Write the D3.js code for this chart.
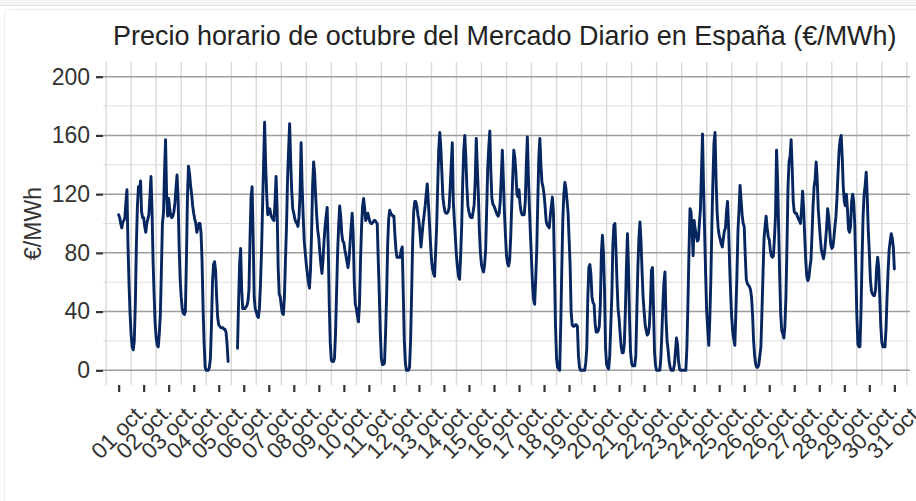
<!DOCTYPE html>
<html><head><meta charset="utf-8">
<script src="https://cdn.jsdelivr.net/npm/d3@7"></script>
<style>
html,body{margin:0;padding:0;background:#fff;}
svg{display:block;font-family:"Liberation Sans",Arial,Helvetica,sans-serif;}
</style>
</head><body>
<svg id="chart" width="916" height="501"></svg>
<script>
// ---- data ----
const chartTitle = "Precio horario de octubre del Mercado Diario en España (€/MWh)";
const yAxisTitle = "€/MWh";
const dayLabels = ["01 oct.","02 oct.","03 oct.","04 oct.","05 oct.","06 oct.","07 oct.","08 oct.",
  "09 oct.","10 oct.","11 oct.","12 oct.","13 oct.","14 oct.","15 oct.","16 oct.","17 oct.","18 oct.",
  "19 oct.","20 oct.","21 oct.","22 oct.","23 oct.","24 oct.","25 oct.","26 oct.","26 oct.","27 oct.",
  "28 oct.","29 oct.","30 oct.","31 oct."];
const yTickValues = [0, 40, 80, 120, 160, 200];
const yMinorValues = [20, 60, 100, 140, 180];
// hourly price (€/MWh), one row per day; null = no data
const hourlyPrices = [
  106,104,100,97,101,102,104,115,123,84,58,38,24,16,14,20,45,85,112,125,121,129,108,104,
  104,98,94,100,103,106,118,132,110,75,52,32,22,17,16,25,38,68,100,107,135,157,120,105,
  117,110,105,104,105,108,114,124,133,118,85,62,50,42,39,38,40,75,118,139,134,126,120,112,
  107,103,100,94,97,100,100,94,75,42,18,2,0,0,0,2,8,30,60,72,74,68,50,36,
  31,30,29,29,29,28,28,26,18,6,null,null,null,null,null,null,null,null,15,45,72,83,55,42,
  42,42,43,44,47,55,90,118,125,92,50,42,40,37,36,42,58,80,110,140,169,140,120,106,
  108,110,106,104,103,102,115,132,110,70,52,50,44,39,38,50,75,98,130,150,168,143,122,110,
  107,103,101,100,98,105,121,155,125,105,88,80,72,66,60,56,68,92,125,142,134,118,105,95,
  90,80,72,66,75,88,98,105,111,85,45,18,7,6,6,8,25,52,80,98,112,105,93,88,
  87,82,78,74,70,76,87,98,107,92,60,45,42,37,33,45,75,98,112,117,110,102,104,107,
  104,101,100,100,101,102,102,101,100,75,52,25,8,4,4,5,25,50,85,103,109,107,106,105,
  105,92,82,77,77,77,77,82,84,52,20,5,0,0,0,2,20,52,88,108,115,115,112,106,
  102,94,84,92,100,106,112,120,127,115,102,88,76,69,66,64,80,98,125,150,162,152,135,118,
  112,108,107,107,108,111,125,140,155,115,102,90,78,70,64,62,78,98,128,150,160,145,125,112,
  108,105,104,104,108,113,130,158,138,120,95,80,72,69,67,72,82,110,138,152,163,135,117,113,
  112,110,108,106,105,107,115,132,150,130,108,92,78,73,71,75,90,112,132,150,145,135,120,118,
  123,113,108,106,106,106,115,140,159,132,110,92,75,58,48,45,62,82,115,145,158,140,128,125,
  120,112,102,99,98,97,105,112,118,108,70,30,8,2,1,0,30,68,102,120,128,124,116,108,
  90,72,40,31,30,30,31,31,30,10,2,0,0,0,0,0,5,15,50,70,72,65,50,46,
  45,32,26,26,27,30,45,80,92,80,55,15,4,2,1,10,30,50,85,99,100,82,60,42,
  35,25,16,12,12,18,40,70,93,70,35,12,5,3,3,3,10,40,70,90,101,88,68,50,
  40,31,27,24,25,30,45,68,70,42,12,3,0,0,0,0,8,25,45,60,67,35,20,14,
  6,2,0,0,0,4,12,22,18,6,1,0,0,0,0,0,0,15,45,80,110,108,95,78,
  102,96,92,88,89,100,110,135,161,125,95,65,40,28,17,35,62,100,130,155,162,130,108,97,
  92,89,86,84,90,95,97,108,115,98,72,52,36,26,21,17,40,65,95,109,126,116,106,100,
  98,78,62,59,58,57,55,50,38,20,10,4,2,2,4,10,16,40,65,90,98,105,97,91,
  89,82,78,77,78,90,105,150,130,98,65,38,27,25,22,30,50,85,125,142,146,157,138,115,
  108,107,107,105,103,102,100,110,122,110,92,75,64,61,63,70,75,92,112,125,130,142,130,110,
  100,90,82,79,76,80,88,97,110,105,95,86,83,84,90,98,105,118,135,150,157,160,145,125,
  115,112,120,110,96,94,98,115,120,115,100,70,38,18,16,16,40,75,105,120,126,135,118,95,
  80,62,54,52,51,51,55,70,77,70,50,30,19,16,16,16,28,50,68,82,88,93,90,84,69
];

// ---- layout ----
const svg = d3.select("#chart");
const panel = {left: 103, right: 910, top: 62, bottom: 385};
const x = d3.scaleLinear().domain([-15, 759]).range([panel.left, panel.right]);
const y = d3.scaleLinear().domain([-10, 210]).range([panel.bottom, panel.top]);

// frame
svg.append("rect").attr("x",0).attr("y",0).attr("width",916).attr("height",5).attr("fill","#f6f6f6");
svg.append("line").attr("x1",0).attr("x2",916).attr("y1",5.5).attr("y2",5.5).attr("stroke","#e2e2e2");
svg.append("rect").attr("x",4.5).attr("y",9.5).attr("width",930).attr("height",520)
  .attr("rx",4).attr("fill","none").attr("stroke","#ececec");

const tickHours = dayLabels.map((_, i) => i * 24);
const gridHours = d3.range(-12, 760, 24);

const grid = svg.append("g");
grid.selectAll("line.vg").data(gridHours).join("line")
  .attr("x1", d => x(d)).attr("x2", d => x(d))
  .attr("y1", panel.top).attr("y2", panel.bottom)
  .attr("stroke", "#d9d9d9").attr("stroke-width", 1.4);
grid.selectAll("line.hmin").data(yMinorValues).join("line")
  .attr("x1", panel.left).attr("x2", panel.right)
  .attr("y1", d => y(d)).attr("y2", d => y(d))
  .attr("stroke", "#dedede").attr("stroke-width", 1.1);
grid.selectAll("line.hmaj").data(yTickValues).join("line")
  .attr("x1", panel.left).attr("x2", panel.right)
  .attr("y1", d => y(d)).attr("y2", d => y(d))
  .attr("stroke", "#9e9e9e").attr("stroke-width", 1.5);

// line
const line = d3.line()
  .defined(d => d != null)
  .x((d, i) => x(i))
  .y(d => y(d));
svg.append("path")
  .datum(hourlyPrices)
  .attr("d", line)
  .attr("fill", "none")
  .attr("stroke", "#062660")
  .attr("stroke-width", 2.9)
  .attr("stroke-linejoin", "round")
  .attr("stroke-linecap", "round");

// axes
const xAxis = d3.axisBottom(x).tickValues(tickHours)
  .tickFormat((d, i) => dayLabels[i]).tickSize(7).tickSizeOuter(0);
const gx = svg.append("g").attr("transform", `translate(0,${panel.bottom})`).call(xAxis);
gx.select(".domain").remove();
gx.selectAll(".tick line").attr("stroke", "#333").attr("stroke-width", 2.2);
gx.selectAll(".tick text")
  .attr("y", null).attr("dy", null)
  .attr("transform", "translate(0,46) rotate(-45)")
  .attr("text-anchor", "middle")
  .attr("dominant-baseline", "central")
  .attr("fill", "#333")
  .style("font-size", "22.5px");

const yAxis = d3.axisLeft(y).tickValues(yTickValues).tickSize(7).tickPadding(6).tickSizeOuter(0);
const gy = svg.append("g").attr("transform", `translate(${panel.left},0)`).call(yAxis);
gy.select(".domain").remove();
gy.selectAll(".tick line").attr("stroke", "#333").attr("stroke-width", 2.2);
gy.selectAll(".tick text").attr("fill", "#333").style("font-size", "23px");

// titles
const t = svg.append("text").attr("x", 113).attr("y", 45)
  .attr("fill", "#222").style("font-size", "26px").text(chartTitle);
const tl = t.node().getComputedTextLength();
t.style("font-size", (26 * 784 / tl) + "px");

svg.append("text")
  .attr("transform", `translate(33,${(panel.top + panel.bottom) / 2}) rotate(-90)`)
  .attr("text-anchor", "middle").attr("dominant-baseline", "central")
  .attr("fill", "#333").style("font-size", "23px").text(yAxisTitle);
</script>
</body></html>
